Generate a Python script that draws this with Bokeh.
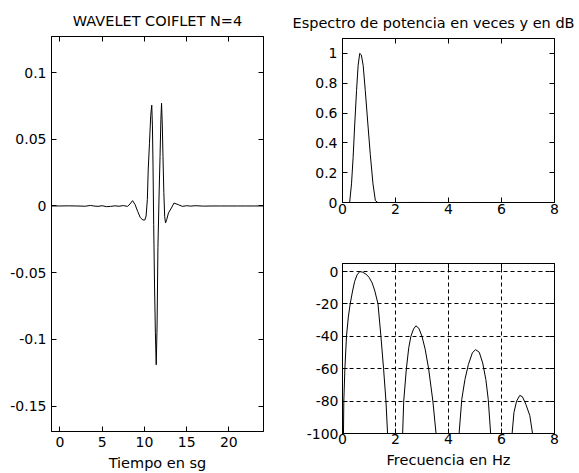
import numpy as np
from bokeh.plotting import figure
from bokeh.models import Range1d, FixedTicker, LinearAxis
from bokeh.layouts import row, column
from bokeh.embed import file_html
from bokeh.resources import INLINE

FONT = "DejaVu Sans"

# Coiflet wavelet N=4, amplitude against time (s)
t_sg = [-1.0, 0.0, 1.0, 2.0, 3.0, 3.6, 4.0, 4.5, 5.0, 5.5,
        6.0, 6.5, 7.0, 7.5, 8.0, 8.3, 8.6, 8.9, 9.2, 9.5,
        9.8, 10.05, 10.2, 10.35, 10.45, 10.6, 10.75, 10.87, 10.95, 11.02,
        11.1, 11.2, 11.3, 11.4, 11.5, 11.6, 11.75, 11.85, 11.95, 12.03,
        12.12, 12.2, 12.3, 12.4, 12.5, 12.65, 12.85, 13.2, 13.5, 14.0,
        14.5, 15.0, 15.5, 16.0, 17.0, 18.0, 19.0, 20.0, 21.0, 22.0,
        23.0, 24.1]
psi = [0.0, 0.0, 0.0001, 0.0, -0.0002, 0.0004, 0.0, -0.0003, 0.0002, -0.0005,
       -0.0003, 0.0001, -0.0002, 0.0003, -0.0003, 0.0015, 0.0040, 0.0010, -0.0040, -0.0085,
       -0.0105, -0.0105, -0.0075, 0.0050, 0.0270, 0.0470, 0.0680, 0.0755, 0.0600, 0.0300,
       -0.0140, -0.0600, -0.0950, -0.1190, -0.0900, -0.0310, 0.0120, 0.0370, 0.0650, 0.0770,
       0.0600, 0.0370, 0.0100, -0.0080, -0.0127, -0.0100, -0.0052, -0.0015, 0.0022, 0.0010,
       -0.0003, 0.0002, -0.0001, 0.0002, -0.0001, 0.0, 0.0, 0.0, 0.0, 0.0,
       0.0, 0.0]

# Power spectrum, linear scale ("veces")
f_lin = [0.0, 0.27, 0.34, 0.40, 0.46, 0.53, 0.59, 0.65, 0.71, 0.78,
         0.86, 0.96, 1.05, 1.15, 1.24, 1.33,
         2.0, 2.8, 3.6, 4.4, 5.0, 5.6, 6.4, 6.75, 7.2, 7.55]
p_lin = [0.0, 0.0, 0.125, 0.30, 0.52, 0.75, 0.92, 1.0, 0.99, 0.92,
         0.75, 0.52, 0.32, 0.125, 0.013, 0.0,
         0.0, 0.0004, 0.0, 0.0, 0.00001, 0.0, 0.0, 0.0, 0.0, 0.0]

# Power spectrum in dB
f_db = [0.00, 0.03, 0.05, 0.09, 0.15, 0.22, 0.29, 0.38, 0.46, 0.55,
        0.65, 0.75, 0.88, 1.00, 1.12, 1.22, 1.34, 1.45, 1.55, 1.64,
        1.70, 1.76, 2.00, 2.22, 2.27, 2.31, 2.41, 2.50, 2.58, 2.68,
        2.77, 2.88, 3.00, 3.12, 3.25, 3.41, 3.53, 3.60, 4.00, 4.35,
        4.40, 4.50, 4.62, 4.75, 4.90, 5.02, 5.16, 5.29, 5.41, 5.50,
        5.59, 5.65, 6.00, 6.34, 6.40, 6.47, 6.57, 6.69, 6.79, 6.92,
        7.07, 7.17, 7.24, 7.55]
p_db = [-130, -110, -80, -60, -40, -28, -20, -12, -6, -2,
        0, -0.3, -1.5, -3.5, -7, -12, -20, -40, -60, -80,
        -100, -118, -140, -118, -100, -80, -60, -47, -40, -35.5,
        -33.5, -35, -40, -48, -60, -80, -100, -118, -140, -118,
        -100, -79, -66.7, -57.4, -50.2, -48.2, -49.8, -56.4, -66.7, -79,
        -100, -118, -140, -118, -100, -87, -80, -76.5, -77.3, -82,
        -89, -100, -118, -140]

# Ticks and their labels
wave_xticks = [0, 5, 10, 15, 20]
wave_xlabels = ["0", "5", "10", "15", "20"]
wave_yticks = [-0.15, -0.1, -0.05, 0, 0.05, 0.1]
wave_ylabels = ["-0.15", "-0.1", "-0.05", "0", "0.05", "0.1"]
freq_ticks = [0, 2, 4, 6, 8]
freq_labels = ["0", "2", "4", "6", "8"]
lin_yticks = [0, 0.2, 0.4, 0.6, 0.8, 1]
lin_ylabels = ["0", "0.2", "0.4", "0.6", "0.8", "1"]
db_yticks = [-100, -80, -60, -40, -20, 0]
db_ylabels = ["-100", "-80", "-60", "-40", "-20", "0"]


def style_box(p, xticks, xlabels, yticks, ylabels, xstand, ystand, tick_px="14px"):
    """MATLAB-like boxed axes: ticks pointing inwards on all four sides."""
    p.xaxis.ticker = FixedTicker(ticks=xticks)
    p.yaxis.ticker = FixedTicker(ticks=yticks)
    p.xaxis.major_label_overrides = dict(zip(xticks, xlabels))
    p.yaxis.major_label_overrides = dict(zip(yticks, ylabels))
    p.xaxis.major_label_standoff = xstand
    p.yaxis.major_label_standoff = ystand
    for ax in (p.xaxis[0], p.yaxis[0]):
        ax.major_tick_in = 5
        ax.major_tick_out = 0
        ax.minor_tick_line_color = None
        ax.axis_line_color = "black"
        ax.major_tick_line_color = "black"
        ax.major_label_text_font = FONT
        ax.major_label_text_font_size = tick_px
        ax.major_label_text_color = "black"
        ax.axis_label_text_font = FONT
        ax.axis_label_text_font_size = "14.5px"
        ax.axis_label_text_font_style = "normal"
        ax.axis_label_text_color = "black"
    # tick-only axes closing the box on the top and right
    for side, ticks in (("above", xticks), ("right", yticks)):
        ax = LinearAxis(ticker=FixedTicker(ticks=ticks),
                        major_label_text_font_size="1px",
                        major_label_text_color=None,
                        major_label_standoff=0,
                        major_tick_in=5, major_tick_out=0,
                        minor_tick_line_color=None,
                        axis_line_color="black",
                        major_tick_line_color="black")
        p.add_layout(ax, side)
    p.xgrid.grid_line_color = None
    p.ygrid.grid_line_color = None
    p.outline_line_color = "black"
    p.background_fill_color = "white"
    p.border_fill_color = "white"
    p.title.text_font = FONT
    p.title.text_font_size = "14.5px"
    p.title.text_font_style = "normal"
    p.title.text_color = "black"
    p.title.standoff = 16


# Left: the wavelet in time
p1 = figure(width=290, height=473, x_range=Range1d(-1, 24.1),
            y_range=Range1d(-0.169, 0.127),
            output_backend="svg", toolbar_location=None,
            min_border_left=51, min_border_right=27,
            min_border_top=36, min_border_bottom=40,
            title="WAVELET COIFLET N=4", x_axis_label="Tiempo en sg")
p1.line(t_sg, psi, line_color="black", line_width=1)
style_box(p1, wave_xticks, wave_xlabels, wave_yticks, wave_ylabels, 5, 5)
p1.xaxis[0].axis_label_standoff = 1
p1.title.align = "center"

# Top right: linear power spectrum
p2 = figure(width=289, height=232, x_range=Range1d(0, 8), y_range=Range1d(0, 1.1),
            output_backend="svg", toolbar_location=None,
            min_border_left=52, min_border_right=25,
            min_border_top=38, min_border_bottom=30,
            title="Espectro de potencia en veces y en dB")
p2.line(f_lin, p_lin, line_color="black", line_width=1)
style_box(p2, freq_ticks, freq_labels, lin_yticks, lin_ylabels, 1, 5)
p2.title.align = "left"
p2.title.offset = -50

# Bottom right: power spectrum in dB, dashed grid
p3 = figure(width=289, height=241, x_range=Range1d(0, 8), y_range=Range1d(-100, 5),
            output_backend="svg", toolbar_location=None,
            min_border_left=52, min_border_right=24,
            min_border_top=31, min_border_bottom=40,
            x_axis_label="Frecuencia en Hz")
p3.line(f_db, p_db, line_color="black", line_width=1)
style_box(p3, freq_ticks, freq_labels, db_yticks, db_ylabels, 0, 4)
p3.xaxis[0].axis_label_standoff = 7
for g in (p3.xgrid[0], p3.ygrid[0]):
    g.grid_line_color = "black"
    g.grid_line_dash = "4 3"
    g.grid_line_width = 1
    g.grid_line_alpha = 1.0

layout = row(p1, column(p2, p3))

with open("out.html", "w") as fh:
    fh.write(file_html(layout, INLINE))
